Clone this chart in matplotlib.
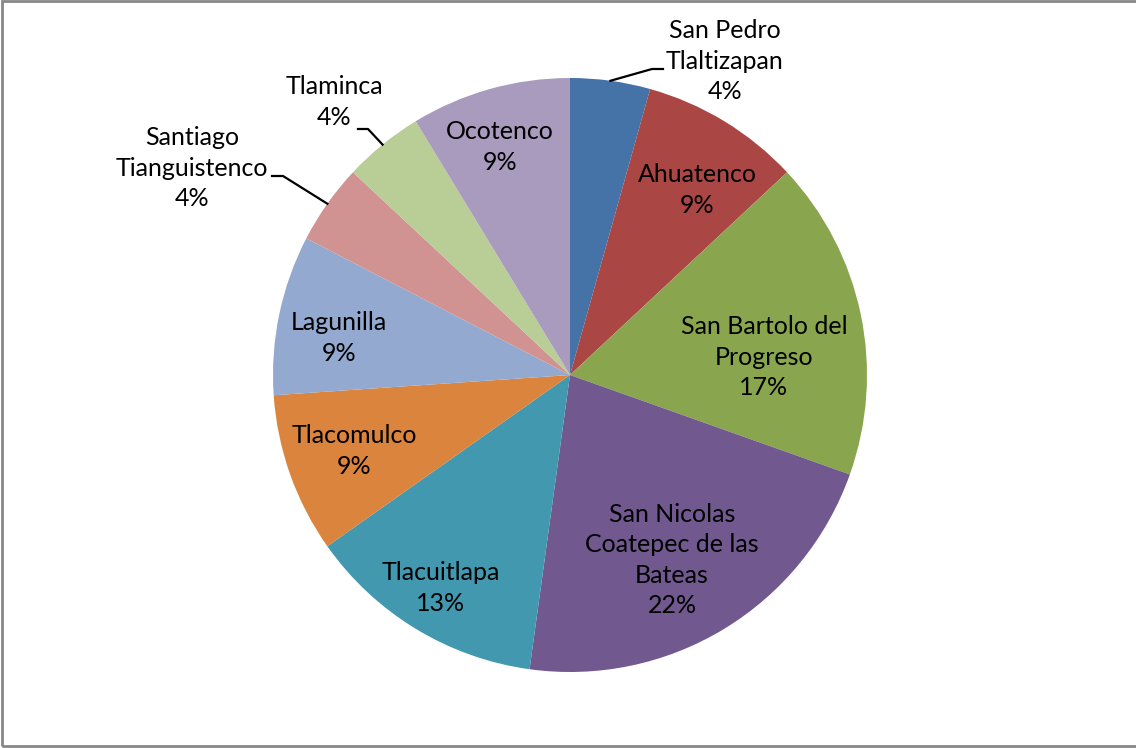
import numpy as np
import matplotlib
matplotlib.use("Agg")
import matplotlib.pyplot as plt
from matplotlib.patches import Rectangle

# data
names = ["San Pedro\nTlaltizapan", "Ahuatenco", "San Bartolo del\nProgreso",
         "San Nicolas\nCoatepec de las\nBateas", "Tlacuitlapa", "Tlacomulco",
         "Lagunilla", "Santiago\nTianguistenco", "Tlaminca", "Ocotenco"]
counts = [1, 2, 4, 5, 3, 2, 2, 1, 1, 2]
colors = ["#4572A7", "#AA4643", "#89A54E", "#71588F", "#4198AF",
          "#DB843D", "#93A9CF", "#D19392", "#B9CD96", "#A99BBD"]

W, H = 1136, 748
cx, cy, R = 570, 375, 297

plt.rcParams["font.family"] = ["Lato", "DejaVu Sans"]
fig = plt.figure(figsize=(W / 100, H / 100), dpi=100)
fig.patch.set_facecolor("white")

ax = fig.add_axes([(cx - R) / W, (H - cy - R) / H, 2 * R / W, 2 * R / H])
wedges, _ = ax.pie(counts, colors=colors, startangle=90, counterclock=False,
                   radius=1, wedgeprops=dict(linewidth=0))
ax.set_xlim(-1, 1)
ax.set_ylim(-1, 1)
ax.set_aspect("equal")
ax.axis("off")


def px(x, y):
    return (x - cx) / R, (cy - y) / R


total = sum(counts)
pcts = [round(c / total * 100) for c in counts]

# label centres in pixels (x, y)
label_pos = [(725, 61), (697, 190), (764, 357), (672, 560), (441, 588),
             (354, 451), (339, 338), (192, 168), (334, 102), (500, 147)]

for name, p, (lx, ly) in zip(names, pcts, label_pos):
    x, y = px(lx, ly)
    ax.text(x, y, f"{name}\n{p}%", ha="center", va="center", fontsize=18,
            linespacing=1.4, color="black", clip_on=False)

# leader lines for small outside labels: (index, elbow px, text-end px)
leaders = [(0, (652, 69), (663, 69)),
           (7, (283, 176), (272, 176)),
           (8, (368, 129), (358, 129))]
cum = np.cumsum([0] + counts)
for i, elbow, end in leaders:
    mid = (cum[i] + cum[i + 1]) / 2 / total * 360
    ang = np.deg2rad(90 - mid)
    x0, y0 = np.cos(ang), np.sin(ang)
    ex, ey = px(*elbow)
    tx, ty = px(*end)
    ax.plot([x0, ex, tx], [y0, ey, ty], color="black", lw=1.6, clip_on=False)

# chart area border
fig.patches.append(Rectangle((2 / W, 2 / H), 1.2, (H - 3) / H, transform=fig.transFigure,
                             fill=False, edgecolor="#878787", lw=2, figure=fig))

fig.savefig("out.png", dpi=100)
